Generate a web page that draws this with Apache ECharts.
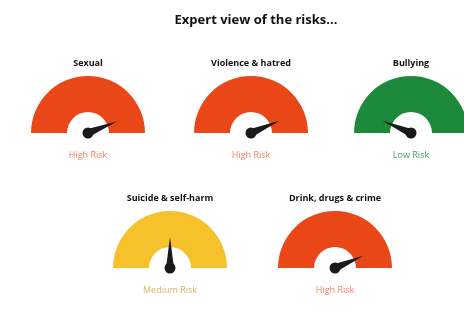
<!DOCTYPE html>
<html>
<head>
<meta charset="utf-8">
<script src="https://cdn.jsdelivr.net/npm/echarts@6/dist/echarts.min.js"></script>
<style>
  html, body { margin: 0; padding: 0; background: #fff; }
  #main { width: 464px; height: 315px; }
</style>
</head>
<body>
<div id="main"></div>
<script>
// data
var riskNames = ["Sexual", "Violence & hatred", "Bullying", "Suicide & self-harm", "Drink, drugs & crime"];
var riskValues = [88, 87, 13, 50, 87];
var riskLevels = ["High Risk", "High Risk", "Low Risk", "Medium Risk", "High Risk"];

// layout of each gauge (px)
var centers = [[88, 133], [251, 133], [411, 133], [170, 268], [335, 268]];

var levelColors = {
  "High Risk": { arc: "#ea4719", text: "#f08466" },
  "Low Risk": { arc: "#1d8a3b", text: "#4aa05e" },
  "Medium Risk": { arc: "#f6c12b", text: "#d9b56a" }
};

var myChart = echarts.init(document.getElementById("main"));

var series = [];
for (var i = 0; i < riskNames.length; i++) {
  var c = levelColors[riskLevels[i]];
  series.push({
    type: "gauge",
    center: centers[i],
    radius: 57,
    startAngle: 180,
    endAngle: 0,
    min: 0,
    max: 100,
    axisLine: {
      lineStyle: { width: 36, color: [[1, c.arc]] }
    },
    splitLine: { show: false },
    axisTick: { show: false },
    axisLabel: { show: false },
    progress: { show: false },
    pointer: {
      icon: "path://M5,0 L10,100 L0,100 Z", // tapered needle, no tail
      length: 31,
      width: 8,
      itemStyle: { color: "#1a1a1a" }
    },
    anchor: {
      show: true,
      size: 11,
      itemStyle: { color: "#1a1a1a" }
    },
    title: {
      offsetCenter: [0, -70],
      fontFamily: "Open Sans",
      fontWeight: "bold",
      fontSize: 9,
      color: "#111"
    },
    detail: {
      offsetCenter: [0, 22],
      fontFamily: "Open Sans",
      fontWeight: "normal",
      fontSize: 9,
      color: c.text,
      formatter: (function (lbl) { return function () { return lbl; }; })(riskLevels[i])
    },
    data: [{ value: riskValues[i], name: riskNames[i] }]
  });
}

myChart.setOption({
  animation: false,
  title: {
    text: "Expert view of the risks...",
    left: 251,
    textAlign: "center",
    top: 9,
    textStyle: { fontFamily: "Open Sans", fontWeight: "bold", fontSize: 13, color: "#111" }
  },
  series: series
});
</script>
</body>
</html>
